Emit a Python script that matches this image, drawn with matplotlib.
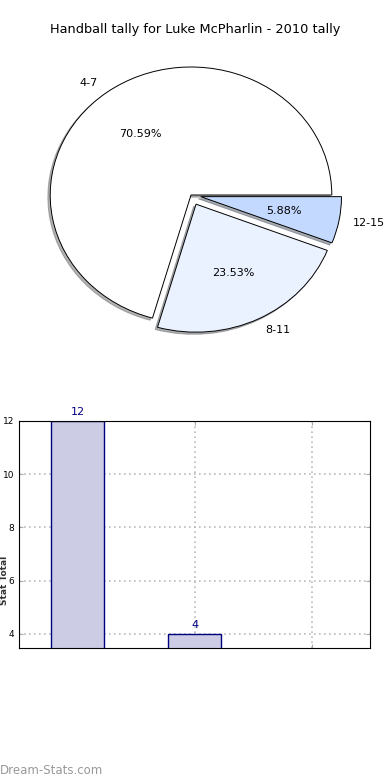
import numpy as np
import matplotlib.pyplot as plt

# tally by group
groups = ["4-7", "8-11", "12-15"]
counts = [12, 4, 1]
pie_colors = ["#ffffff", "#eaf1ff", "#c4d9ff"]
explode = [0, 0.08, 0.07]

fig = plt.figure(figsize=(3.9, 7.8), dpi=100)

fig.text(0.5, 1 - 30 / 780., "Handball tally for Luke McPharlin - 2010 tally",
         ha="center", va="center", fontsize=9.3)

# pie
ax1 = fig.add_axes([15 / 390., 1 - 355 / 780., 352 / 390., 320 / 780.])
wedges, texts, autotexts = ax1.pie(counts, labels=groups, colors=pie_colors,
                                   explode=explode, autopct="%.2f%%",
                                   shadow={"ox": -0.012, "oy": -0.012, "shade": 0.6},
                                   startangle=0,
                                   wedgeprops={"edgecolor": "black", "linewidth": 0.7},
                                   textprops={"fontsize": 8})
ax1.set_aspect("auto")
ax1.set_xlim(-1.25, 1.25)
ax1.set_ylim(-1.25, 1.25)

# bars
ax2 = fig.add_axes([19 / 390., 132 / 780., 351 / 390., 227 / 780.])
ind = np.arange(len(counts))
ylo = 3.47
bars = ax2.bar(ind, counts, 0.45, color="#ccccе5".replace("е", "e"), edgecolor="navy", linewidth=1, zorder=2)
for x, v in zip(ind, counts):
    if v > ylo:
        ax2.text(x, v + 0.15, str(v), ha="center", va="bottom", color="navy", fontsize=8, clip_on=False)
ax2.set_xlim(-0.5, 2.5)
ax2.set_ylim(ylo, 12)
ax2.set_yticks([4, 6, 8, 10, 12])
ax2.set_xticks(ind)
ax2.set_xticklabels([])
ax2.grid(True, linestyle=(0, (1, 2)), color="#bbbbbb", linewidth=1.2)
ax2.tick_params(direction="in", top=True, right=True, labelsize=6.5, length=3, color="#aaaaaa")

fig.text(0.0, 1 - 580 / 780., "Stat Total", rotation=90, fontsize=6.5, fontweight="bold",
         color="#333333", ha="left", va="center")

fig.text(0.0, 1 - 771 / 780., "Dream-Stats.com", color="#999999", fontsize=8.5,
         ha="left", va="center")

plt.savefig("out.png", dpi=100)
